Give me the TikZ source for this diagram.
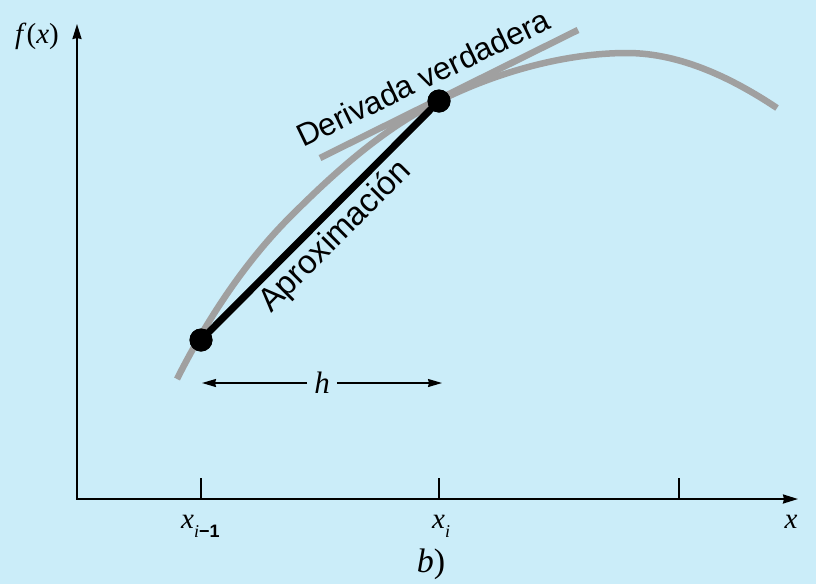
\documentclass[tikz,border=0pt]{standalone}
\usepackage{fontspec}
\setmainfont{Liberation Serif}
\newfontfamily\sansf{Liberation Sans}
\usetikzlibrary{arrows.meta}
\definecolor{bg}{HTML}{CBEDF9}
\definecolor{curvegray}{HTML}{A0A0A0}
\begin{document}
\begin{tikzpicture}[x=1pt,y=-1pt,
  axisline/.style={line width=2pt, {Stealth[length=15pt,width=9pt,inset=1pt]}-{Stealth[length=15pt,width=9pt,inset=1pt]}},
  tickline/.style={line width=2pt},
  graycurve/.style={draw=curvegray, line width=6.5pt},
  secant/.style={draw=black, line width=7pt},
  dot/.style={circle, fill=black, minimum size=23pt, inner sep=0pt},
  dimarrow/.style={line width=1.5pt, -{Stealth[length=14pt,width=8pt,inset=1pt]}},
  mathlbl/.style={font=\fontsize{29}{31}\selectfont, inner sep=0pt},
  biglbl/.style={font=\fontsize{34}{36}\selectfont, inner sep=0pt},
  textlbl/.style={font=\sansf\fontsize{31.5}{33}\selectfont, inner sep=0pt}
]
\fill[bg] (0,0) rectangle (816,584);
\useasboundingbox (0,0) rectangle (816,584);

% axes
\coordinate (O) at (77,499);
\coordinate (ytip) at (77,24);
\coordinate (xtip) at (798,499);
\draw[axisline] (ytip) -- (O) -- (xtip);
\draw[tickline] (201,478) -- (201,499);
\draw[tickline] (439,478) -- (439,499);
\draw[tickline] (679,478) -- (679,499);

% curve
\draw[graycurve] (177,379) .. controls (206.3,321) and (244,263) .. (290,217)
  .. controls (334.5,172.5) and (382.6,129) .. (439,101)
  .. controls (499,71) and (567,53) .. (627,53)
  .. controls (682,53) and (735,80) .. (777,108);

% tangent
\coordinate (t1) at (320,158);
\coordinate (t2) at (578,30);
\draw[graycurve] (t1) -- (t2);

% secant and points
\node[dot] (p1) at (201,340) {};
\node[dot] (p2) at (439,101) {};
\draw[secant] (p1.center) -- (p2.center);
\node[dot] at (p1.center) {};
\node[dot] at (p2.center) {};

% h dimension
\coordinate (hl) at (202,383);
\coordinate (hr) at (442,383);
\node[mathlbl, font=\fontsize{31}{33}\selectfont, inner sep=7pt] (h) at (322,383) {\textit{h}};
\draw[dimarrow] (h.west |- hl) -- (hl);
\draw[dimarrow] (h.east |- hr) -- (hr);

% labels
\node[mathlbl, anchor=base] (fx) at (37,43) {\textit{f}(\textit{x})};
\node[mathlbl, anchor=base] (xl) at (791,528) {\textit{x}};
\node[mathlbl, anchor=base west] (xim1) at (181,528) {\textit{x}\raisebox{-9pt}{\fontsize{18}{20}\selectfont\textit{i}\sansf\bfseries −1}};
\node[mathlbl, anchor=base west] (xi) at (432,528) {\textit{x}\raisebox{-9pt}{\fontsize{18}{20}\selectfont\textit{i}}};
\node[biglbl, anchor=base] (b) at (431,572) {\textit{b})};
\node[textlbl, rotate=25.7, anchor=base west] (dv) at (303,148) {Derivada verdadera};
\node[textlbl, font=\sansf\fontsize{33}{35}\selectfont, rotate=45, anchor=base west] (ap) at (271,314) {Aproximación};
\end{tikzpicture}
\end{document}
